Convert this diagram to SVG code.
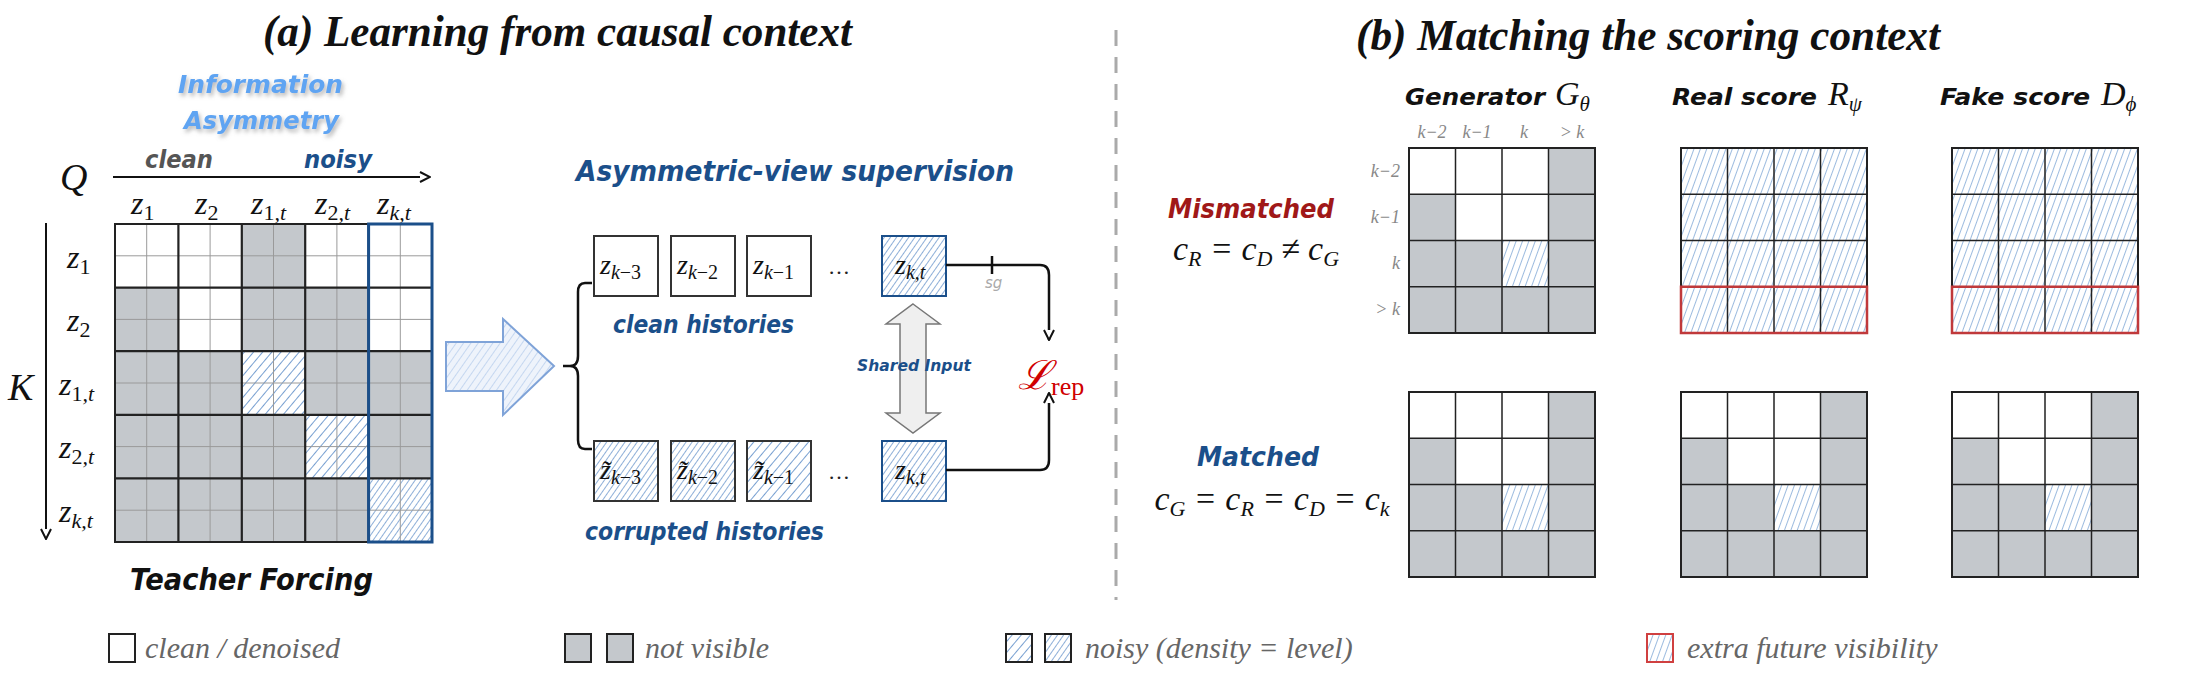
<svg xmlns="http://www.w3.org/2000/svg" xmlns:xlink="http://www.w3.org/1999/xlink" width="2200" height="676" viewBox="0 0 2200 676">
<style>
.title{font-family:"Liberation Serif",serif;font-weight:bold;font-style:italic;font-size:44px;fill:#111}
.m{font-family:"Liberation Serif",serif;font-style:italic;fill:#111}
.hand{font-family:"DejaVu Sans",sans-serif;font-weight:bold;font-style:oblique}
.leg{font-family:"Liberation Serif",serif;font-style:italic;font-size:30px;fill:#666}
.g{fill:#c4c8cc}
.cell{fill:none;stroke:#222;stroke-width:2}
.sub{stroke:#9a9a9a;stroke-width:1}
.gl{stroke:#222;stroke-width:1.5}
.ax{fill:#888;font-family:"Liberation Serif",serif;font-style:italic;font-size:18px}
</style>
<defs>
<pattern id="h" width="7" height="7" patternUnits="userSpaceOnUse" patternTransform="rotate(40)"><rect width="7" height="7" fill="#fff"/><line x1="0" y1="0" x2="0" y2="7" stroke="#2f6db8" stroke-width="1.3"/></pattern>
<pattern id="hd" width="5" height="5" patternUnits="userSpaceOnUse" patternTransform="rotate(35)"><rect width="5" height="5" fill="#fff"/><line x1="0" y1="0" x2="0" y2="5" stroke="#2f6db8" stroke-width="1.1"/></pattern>
<pattern id="hs" width="6" height="6" patternUnits="userSpaceOnUse" patternTransform="rotate(20)"><rect width="6" height="6" fill="#fff"/><line x1="0" y1="0" x2="0" y2="6" stroke="#3a78c0" stroke-width="1"/></pattern>
<pattern id="hl" width="6" height="6" patternUnits="userSpaceOnUse" patternTransform="rotate(35)"><rect width="6" height="6" fill="#eef3fb"/><line x1="0" y1="0" x2="0" y2="6" stroke="#9dbbe6" stroke-width="1"/></pattern>
<marker id="oa" viewBox="0 0 12 12" refX="11" refY="6" markerWidth="12" markerHeight="12" markerUnits="userSpaceOnUse" orient="auto"><path d="M1,1 L11,6 L1,11" fill="#fff" stroke="#111" stroke-width="2"/></marker>
<filter id="sh" x="-10%" y="-20%" width="120%" height="150%"><feDropShadow dx="2" dy="3" stdDeviation="2" flood-color="#888" flood-opacity="0.6"/></filter>
<g id="mgrid">
<rect x="0" y="0" width="186" height="185" fill="#fff"/>
<rect class="g" x="139.5" y="0" width="46.5" height="92.5"/>
<rect class="g" x="0" y="46.25" width="46.5" height="46.25"/>
<rect class="g" x="0" y="92.5" width="93" height="46.25"/>
<rect fill="url(#hs)" x="93" y="92.5" width="46.5" height="46.25"/>
<rect class="g" x="139.5" y="92.5" width="46.5" height="46.25"/>
<rect class="g" x="0" y="138.75" width="186" height="46.25"/>
<path class="gl" d="M46.5,0V185M93,0V185M139.5,0V185M0,46.25H186M0,92.5H186M0,138.75H186"/>
<rect class="cell" x="0" y="0" width="186" height="185"/>
</g>
<g id="hgrid">
<rect x="0" y="0" width="186" height="185" fill="url(#hs)"/>
<path class="gl" d="M46.5,0V185M93,0V185M139.5,0V185M0,46.25H186M0,92.5H186M0,138.75H186"/>
<rect class="cell" x="0" y="0" width="186" height="185"/>
<rect x="0" y="138.75" width="186" height="46.25" fill="none" stroke="#c0393b" stroke-width="2.5"/>
</g>
</defs>
<rect width="2200" height="676" fill="#fff"/>

<text class="title" x="263" y="46" textLength="589" lengthAdjust="spacingAndGlyphs">(a) Learning from causal context</text>
<text class="title" x="1356" y="50" textLength="584" lengthAdjust="spacingAndGlyphs">(b) Matching the scoring context</text>
<line x1="1116" y1="30" x2="1116" y2="600" stroke="#aaa" stroke-width="3" stroke-dasharray="16,11"/>

<g id="info">
<text class="hand" x="178" y="93" font-size="25" fill="#5ea4f2" filter="url(#sh)" textLength="165" lengthAdjust="spacingAndGlyphs">Information</text>
<text class="hand" x="184" y="129" font-size="25" fill="#5ea4f2" filter="url(#sh)" textLength="155" lengthAdjust="spacingAndGlyphs">Asymmetry</text>
</g>

<g id="axes">
<text class="hand" x="145" y="168" font-size="25" fill="#555" textLength="68" lengthAdjust="spacingAndGlyphs">clean</text>
<text class="hand" x="304" y="168" font-size="25" fill="#1b4f8a" textLength="68" lengthAdjust="spacingAndGlyphs">noisy</text>
<text class="m" x="60" y="190" font-size="38">Q</text>
<line x1="113" y1="177" x2="430" y2="177" stroke="#111" stroke-width="2" marker-end="url(#oa)"/>
<text class="m" x="8" y="400" font-size="38">K</text>
<line x1="46" y1="223" x2="46" y2="539" stroke="#111" stroke-width="2" marker-end="url(#oa)"/>
<g font-size="32" class="m">
<text x="131" y="214">z<tspan font-size="22" dy="6" font-style="normal">1</tspan></text>
<text x="195" y="214">z<tspan font-size="22" dy="6" font-style="normal">2</tspan></text>
<text x="251" y="214">z<tspan font-size="22" dy="6"><tspan font-style="normal">1</tspan>,t</tspan></text>
<text x="315" y="214">z<tspan font-size="22" dy="6"><tspan font-style="normal">2</tspan>,t</tspan></text>
<text x="377" y="214">z<tspan font-size="22" dy="6">k,t</tspan></text>
<text x="67" y="268">z<tspan font-size="22" dy="6" font-style="normal">1</tspan></text>
<text x="67" y="331">z<tspan font-size="22" dy="6" font-style="normal">2</tspan></text>
<text x="59" y="395">z<tspan font-size="22" dy="6"><tspan font-style="normal">1</tspan>,t</tspan></text>
<text x="59" y="458">z<tspan font-size="22" dy="6"><tspan font-style="normal">2</tspan>,t</tspan></text>
<text x="59" y="522">z<tspan font-size="22" dy="6">k,t</tspan></text>
</g>
</g>

<g id="tf-matrix">
<rect x="115" y="224" width="317" height="318" fill="#fff"/>
<rect class="g" x="241.8" y="224" width="63.4" height="63.6"/>
<rect class="g" x="115" y="287.6" width="63.4" height="63.6"/>
<rect class="g" x="241.8" y="287.6" width="126.8" height="63.6"/>
<rect class="g" x="115" y="351.2" width="126.8" height="63.6"/>
<rect fill="url(#h)" x="241.8" y="351.2" width="63.4" height="63.6"/>
<rect class="g" x="305.2" y="351.2" width="126.8" height="63.6"/>
<rect class="g" x="115" y="414.8" width="190.2" height="63.6"/>
<rect fill="url(#h)" x="305.2" y="414.8" width="63.4" height="63.6"/>
<rect class="g" x="368.6" y="414.8" width="63.4" height="63.6"/>
<rect class="g" x="115" y="478.4" width="253.6" height="63.6"/>
<rect fill="url(#hd)" x="368.6" y="478.4" width="63.4" height="63.6"/>
<path class="sub" d="M146.7,224V542M210.1,224V542M273.5,224V542M336.9,224V542M400.3,224V542M115,255.8H432M115,319.4H432M115,383H432M115,446.6H432M115,510.2H432"/>
<path stroke="#222" stroke-width="2.2" d="M178.4,224V542M241.8,224V542M305.2,224V542M368.6,224V542M115,287.6H432M115,351.2H432M115,414.8H432M115,478.4H432"/>
<rect class="cell" x="115" y="224" width="317" height="318"/>
<rect x="368.6" y="224" width="63.4" height="318" fill="none" stroke="#1b4f8a" stroke-width="3"/>
<text class="hand" x="130" y="590" font-size="30" fill="#111" textLength="243" lengthAdjust="spacingAndGlyphs">Teacher Forcing</text>
</g>

<g id="big-arrow">
<polygon points="446,342 503,342 503,319 554,366 503,415 503,391 446,391" fill="url(#hl)" stroke="#7fa3d8" stroke-width="2"/>
</g>

<g id="asym">
<text class="hand" x="576" y="181" font-size="29" fill="#1b4f8a" textLength="438" lengthAdjust="spacingAndGlyphs">Asymmetric-view supervision</text>
<path d="M592,283 H585 Q578,283 578,292 V356 Q578,366 570,366 H563 M570,366 Q578,366 578,376 V440 Q578,449 585,449 H592" fill="none" stroke="#111" stroke-width="2.5"/>
<g stroke="#333" stroke-width="2">
<rect x="594" y="236" width="64" height="60" fill="#fff"/>
<rect x="671" y="236" width="64" height="60" fill="#fff"/>
<rect x="747" y="236" width="64" height="60" fill="#fff"/>
<rect x="594" y="441" width="64" height="60" fill="url(#hd)"/>
<rect x="671" y="441" width="64" height="60" fill="url(#hd)"/>
<rect x="747" y="441" width="64" height="60" fill="url(#h)"/>
</g>
<rect x="882" y="236" width="64" height="60" fill="url(#hd)" stroke="#1b4f8a" stroke-width="2"/>
<rect x="882" y="441" width="64" height="60" fill="url(#hd)" stroke="#1b4f8a" stroke-width="2"/>
<g class="m" font-size="28">
<text x="600" y="274">z<tspan font-size="20" dy="5">k</tspan><tspan font-size="20" font-style="normal">−3</tspan></text>
<text x="677" y="274">z<tspan font-size="20" dy="5">k</tspan><tspan font-size="20" font-style="normal">−2</tspan></text>
<text x="753" y="274">z<tspan font-size="20" dy="5">k</tspan><tspan font-size="20" font-style="normal">−1</tspan></text>
<text x="895" y="274">z<tspan font-size="20" dy="5">k,t</tspan></text>
<text x="600" y="479">z̃<tspan font-size="20" dy="5">k</tspan><tspan font-size="20" font-style="normal">−3</tspan></text>
<text x="677" y="479">z̃<tspan font-size="20" dy="5">k</tspan><tspan font-size="20" font-style="normal">−2</tspan></text>
<text x="753" y="479">z̃<tspan font-size="20" dy="5">k</tspan><tspan font-size="20" font-style="normal">−1</tspan></text>
<text x="895" y="479">z<tspan font-size="20" dy="5">k,t</tspan></text>
</g>
<text x="828" y="274" font-family="Liberation Serif,serif" font-size="22" fill="#222">…</text>
<text x="828" y="479" font-family="Liberation Serif,serif" font-size="22" fill="#222">…</text>
<text class="hand" x="613" y="333" font-size="25" fill="#1b4f8a" textLength="181" lengthAdjust="spacingAndGlyphs">clean histories</text>
<text class="hand" x="585" y="540" font-size="25" fill="#1b4f8a" textLength="239" lengthAdjust="spacingAndGlyphs">corrupted histories</text>
<polygon points="913,304 940,324 926,324 926,413 940,413 913,433 886,413 900,413 900,324 886,324" fill="#efefef" stroke="#777" stroke-width="1.5"/>
<text class="hand" x="857" y="371" font-size="16" fill="#1b4f8a" textLength="114" lengthAdjust="spacingAndGlyphs">Shared Input</text>
</g>

<g id="connectors" fill="none" stroke="#111" stroke-width="2.5">
<path d="M946,265 H1040 Q1049,265 1049,275 V340" marker-end="url(#oa)"/>
<line x1="992" y1="256" x2="992" y2="274"/>
<path d="M946,470 H1040 Q1049,470 1049,460 V393" marker-end="url(#oa)"/>
</g>
<text x="985" y="288" font-family="DejaVu Sans,sans-serif" font-style="oblique" font-size="15" fill="#aaa">sg</text>
<text x="1018" y="389" font-family="Liberation Serif,serif" font-style="italic" font-size="40" fill="#d00000">ℒ<tspan font-style="normal" font-size="26" dy="6">rep</tspan></text>

<g id="headers">
<text x="1405" y="105" class="hand" font-size="23" fill="#111" textLength="140" lengthAdjust="spacingAndGlyphs">Generator</text>
<text x="1555" y="105" class="m" font-size="34">G<tspan font-size="21" dy="6">θ</tspan></text>
<text x="1672" y="105" class="hand" font-size="23" fill="#111" textLength="145" lengthAdjust="spacingAndGlyphs">Real score</text>
<text x="1828" y="105" class="m" font-size="34">R<tspan font-size="21" dy="6">ψ</tspan></text>
<text x="1940" y="105" class="hand" font-size="23" fill="#111" textLength="150" lengthAdjust="spacingAndGlyphs">Fake score</text>
<text x="2101" y="105" class="m" font-size="34">D<tspan font-size="21" dy="6">ϕ</tspan></text>
<g class="ax" text-anchor="middle">
<text x="1432" y="138">k−2</text><text x="1477" y="138">k−1</text><text x="1524" y="138">k</text><text x="1572" y="138">&gt; k</text>
</g>
<g class="ax" text-anchor="end">
<text x="1400" y="177">k−2</text><text x="1400" y="223">k−1</text><text x="1400" y="269">k</text><text x="1400" y="315">&gt; k</text>
</g>
</g>

<g id="mismatched">
<text x="1251" y="218" text-anchor="middle" class="hand" font-size="27" fill="#a01818" textLength="166" lengthAdjust="spacingAndGlyphs">Mismatched</text>
<text x="1256" y="260" text-anchor="middle" class="m" font-size="34" fill="#a01818">c<tspan font-size="22" dy="6">R</tspan><tspan dy="-6"> = c</tspan><tspan font-size="22" dy="6">D</tspan><tspan dy="-6"> ≠ c</tspan><tspan font-size="22" dy="6">G</tspan></text>
</g>
<g id="matched">
<text x="1258" y="466" text-anchor="middle" class="hand" font-size="27" fill="#1b4f8a" textLength="122" lengthAdjust="spacingAndGlyphs">Matched</text>
<text x="1272" y="510" text-anchor="middle" class="m" font-size="34" fill="#1b4f8a">c<tspan font-size="22" dy="6">G</tspan><tspan dy="-6"> = c</tspan><tspan font-size="22" dy="6">R</tspan><tspan dy="-6"> = c</tspan><tspan font-size="22" dy="6">D</tspan><tspan dy="-6"> = c</tspan><tspan font-size="22" dy="6">k</tspan></text>
</g>

<g id="gen-mis"><use href="#mgrid" x="1409" y="148"/></g>
<g id="real-mis"><use href="#hgrid" x="1681" y="148"/></g>
<g id="fake-mis"><use href="#hgrid" x="1952" y="148"/></g>
<g id="gen-mat"><use href="#mgrid" x="1409" y="392"/></g>
<g id="real-mat"><use href="#mgrid" x="1681" y="392"/></g>
<g id="fake-mat"><use href="#mgrid" x="1952" y="392"/></g>

<g id="legend">
<rect x="109" y="634" width="26" height="28" fill="#fff" stroke="#222" stroke-width="2"/>
<text class="leg" x="145" y="658">clean / denoised</text>
<rect x="565" y="634" width="26" height="28" class="g" stroke="#222" stroke-width="2"/>
<rect x="607" y="634" width="26" height="28" class="g" stroke="#222" stroke-width="2"/>
<text class="leg" x="645" y="658">not visible</text>
<rect x="1006" y="634" width="26" height="28" fill="url(#h)" stroke="#222" stroke-width="2"/>
<rect x="1045" y="634" width="26" height="28" fill="url(#hd)" stroke="#222" stroke-width="2"/>
<text class="leg" x="1085" y="658">noisy (density = level)</text>
<rect x="1647" y="634" width="26" height="28" fill="url(#hs)" stroke="#d04040" stroke-width="2"/>
<text class="leg" x="1687" y="658">extra future visibility</text>
</g>
</svg>
